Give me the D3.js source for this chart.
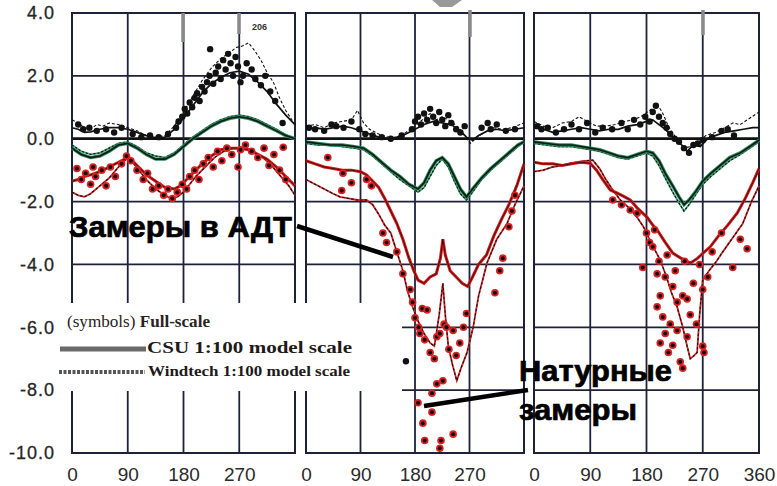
<!DOCTYPE html>
<html>
<head>
<meta charset="utf-8">
<script src="https://cdn.jsdelivr.net/npm/d3@7"></script>
<style>
  body { margin: 0; background: #fff; }
  svg { display: block; }
</style>
</head>
<body>
<svg id="chart" width="777" height="486"></svg>
<script>
// axis values
const yTicks = [4, 2, 0, -2, -4, -6, -8, -10];
const gridAngles = [90, 180, 270];
const xLabels = [[0, 90, 180, 270], [0, 90, 180, 270], [0, 90, 180, 270, 360]];

// panel 1 [angle, Cp]
const p1MaxCsu = [[0,0.35],[10,0.3],[20,0.2],[30,0.22],[45,0.3],[60,0.35],[75,0.35],[90,0.3],[105,0.2],[120,0.1],[135,0.03],[150,0.05],[165,0.3],[180,0.65],[195,1.05],[210,1.45],[225,1.75],[240,1.95],[255,2.1],[270,2.15],[285,2.05],[300,1.8],[315,1.5],[330,1.1],[345,0.75],[360,0.45]];
const p1MaxWind = [[0,0.6],[10,0.5],[20,0.35],[30,0.3],[40,0.45],[50,0.4],[60,0.5],[75,0.45],[90,0.35],[105,0.25],[120,0.1],[135,0.05],[150,0.1],[165,0.4],[180,0.85],[195,1.35],[210,1.85],[225,2.25],[240,2.55],[255,2.75],[265,2.9],[275,2.95],[285,3.05],[295,2.8],[305,2.5],[315,2.1],[325,1.8],[335,1.3],[345,0.9],[360,0.45]];
const p1MaxPts = [[10,0.45],[18,0.3],[28,0.35],[40,0.25],[55,0.3],[68,0.2],[80,0.35],[98,0.15],[112,0.05],[126,0.1],[140,0.05],[155,0.15],[168,0.35],[172,0.55],[178,0.7],[182,0.95],[186,0.8],[190,1.15],[194,1.0],[198,1.3],[202,1.45],[206,1.2],[210,1.65],[214,1.5],[218,1.8],[222,2.0],[223,2.85],[228,1.75],[232,2.1],[236,2.3],[240,1.9],[244,2.5],[248,2.2],[252,2.7],[256,2.4],[260,2.0],[264,2.6],[268,2.3],[272,1.8],[276,2.0],[282,2.4],[290,2.2],[296,1.9],[305,1.7],[312,2.0],[320,1.5],[328,1.2],[340,0.5]];
const p1MeanCsu = [[0,-0.3],[15,-0.5],[30,-0.6],[45,-0.55],[60,-0.4],[75,-0.2],[90,-0.15],[105,-0.3],[120,-0.5],[135,-0.65],[150,-0.65],[165,-0.5],[180,-0.25],[195,0.0],[210,0.2],[225,0.4],[240,0.55],[255,0.65],[270,0.7],[285,0.65],[300,0.55],[315,0.4],[330,0.25],[345,0.1],[360,0.0]];
const p1MeanWind = [[0,-0.2],[15,-0.4],[30,-0.5],[45,-0.45],[60,-0.3],[75,-0.15],[90,-0.1],[105,-0.25],[120,-0.45],[135,-0.55],[150,-0.6],[165,-0.45],[180,-0.2],[195,0.05],[210,0.25],[225,0.45],[240,0.6],[255,0.7],[270,0.75],[285,0.7],[300,0.6],[315,0.45],[330,0.3],[345,0.12],[360,0.0]];
const p1MinCsu = [[0,-1.35],[10,-1.3],[20,-1.2],[30,-1.15],[45,-1.05],[60,-0.9],[75,-0.75],[90,-0.6],[100,-0.75],[110,-0.95],[120,-1.15],[135,-1.35],[150,-1.55],[165,-1.6],[175,-1.5],[185,-1.3],[195,-1.1],[210,-0.8],[225,-0.55],[240,-0.35],[255,-0.3],[270,-0.3],[285,-0.35],[300,-0.5],[315,-0.65],[330,-0.9],[345,-1.2],[360,-1.5]];
const p1MinWind = [[0,-1.7],[10,-1.8],[20,-1.85],[30,-1.75],[45,-1.5],[60,-1.25],[75,-0.9],[90,-0.6],[100,-0.8],[110,-1.05],[120,-1.3],[135,-1.6],[150,-1.8],[160,-1.9],[170,-1.85],[180,-1.7],[190,-1.45],[200,-1.2],[215,-0.9],[230,-0.6],[245,-0.4],[260,-0.3],[275,-0.3],[290,-0.4],[305,-0.55],[320,-0.8],[335,-1.15],[350,-1.5],[360,-1.8]];
const p1MinPts = [[8,-0.95],[15,-1.3],[22,-1.1],[30,-1.45],[34,-0.9],[38,-1.2],[48,-1.0],[55,-1.5],[62,-0.9],[70,-1.2],[80,-0.8],[88,-0.55],[95,-0.7],[105,-1.0],[115,-1.3],[122,-1.1],[130,-1.6],[140,-1.5],[148,-1.8],[155,-1.6],[162,-1.9],[170,-1.7],[178,-1.45],[185,-1.6],[190,-1.2],[198,-1.0],[205,-1.3],[212,-0.8],[220,-0.6],[228,-0.9],[235,-0.4],[242,-0.7],[250,-0.3],[258,-0.5],[268,-0.9],[272,-0.35],[280,-0.2],[290,-0.4],[300,-0.6],[310,-0.3],[318,-0.85],[326,-0.5],[335,-1.0],[341,-0.27],[345,-1.3]];

// panel 2
const p2MaxCsu = [[0,0.3],[15,0.35],[30,0.3],[45,0.35],[60,0.4],[75,0.35],[90,0.25],[105,0.15],[120,0.05],[135,0.0],[150,0.05],[165,0.15],[180,0.3],[195,0.45],[210,0.55],[225,0.5],[240,0.45],[255,0.25],[265,0.05],[275,-0.05],[285,0.1],[300,0.25],[315,0.3],[330,0.25],[345,0.3],[360,0.35]];
const p2MaxWind = [[0,0.4],[15,0.45],[30,0.35],[45,0.5],[60,0.55],[75,0.6],[85,0.9],[95,0.5],[105,0.3],[120,0.15],[135,0.05],[150,0.0],[165,0.2],[180,0.4],[195,0.65],[205,0.8],[215,0.6],[225,0.7],[240,0.55],[255,0.3],[265,0.0],[272,-0.15],[282,0.05],[295,0.2],[310,0.35],[325,0.3],[340,0.35],[360,0.5]];
const p2MaxPts = [[5,0.35],[15,0.3],[30,0.25],[42,0.45],[50,0.4],[62,0.35],[75,0.55],[88,0.3],[98,0.15],[110,0.1],[125,0.05],[140,0.0],[158,0.1],[175,0.3],[180,0.55],[185,0.7],[190,0.45],[195,0.8],[200,0.6],[205,0.95],[210,0.7],[215,0.5],[220,0.85],[225,0.6],[230,0.4],[235,0.75],[240,0.5],[248,0.3],[255,0.2],[262,0.4],[290,0.35],[300,0.5],[305,0.3],[315,0.45],[330,0.25],[345,0.3],[165,-7.08]];
const p2MeanCsu = [[0,-0.1],[20,-0.15],[40,-0.2],[60,-0.2],[80,-0.25],[95,-0.3],[110,-0.5],[125,-0.75],[140,-1.0],[155,-1.2],[170,-1.45],[185,-1.6],[195,-1.4],[205,-1.0],[215,-0.7],[225,-0.6],[235,-0.8],[245,-1.2],[255,-1.6],[265,-1.85],[275,-1.6],[290,-1.25],[305,-0.95],[320,-0.7],[335,-0.45],[350,-0.2],[360,-0.1]];
const p2MeanWind = [[0,-0.15],[20,-0.2],[40,-0.2],[60,-0.25],[80,-0.3],[95,-0.35],[110,-0.55],[125,-0.8],[140,-1.05],[155,-1.3],[170,-1.5],[185,-1.7],[195,-1.55],[205,-1.2],[215,-0.85],[225,-0.65],[235,-0.9],[245,-1.35],[255,-1.75],[265,-1.95],[275,-1.7],[290,-1.3],[305,-1.0],[320,-0.75],[335,-0.5],[350,-0.25],[360,-0.1]];
const p2MinCsu = [[0,-0.7],[15,-0.8],[30,-0.9],[45,-0.95],[60,-1.0],[75,-1.0],[90,-1.05],[100,-1.15],[110,-1.35],[120,-1.55],[130,-1.9],[140,-2.3],[150,-2.7],[160,-3.2],[170,-3.8],[178,-4.2],[185,-4.5],[195,-4.6],[205,-4.4],[215,-4.3],[222,-3.8],[226,-3.2],[230,-3.7],[238,-4.2],[248,-4.4],[258,-4.6],[267,-4.7],[275,-4.4],[285,-4.0],[298,-3.7],[310,-3.1],[322,-2.6],[335,-2.1],[348,-1.5],[360,-0.8]];
const p2MinWind = [[0,-1.3],[15,-1.45],[30,-1.6],[45,-1.75],[56,-1.85],[70,-1.9],[85,-1.95],[100,-1.95],[110,-2.1],[120,-2.4],[130,-2.75],[140,-3.0],[150,-3.6],[160,-4.2],[167,-4.8],[175,-5.3],[185,-5.8],[195,-6.2],[205,-6.5],[212,-6.6],[220,-5.6],[226,-4.6],[230,-5.6],[235,-6.6],[242,-7.2],[249,-7.7],[256,-7.3],[266,-6.8],[276,-6.0],[285,-5.0],[299,-3.95],[315,-3.2],[332,-2.7],[345,-2.1],[360,-1.5]];
const p2MinPts = [[36,-0.6],[59,-1.65],[61,-1.1],[75,-1.4],[100,-1.3],[108,-1.5],[127,-3.0],[133,-3.3],[150,-3.6],[160,-4.3],[172,-4.8],[176,-5.2],[180,-5.7],[185,-8.4],[186,-6.0],[188,-6.2],[192,-5.4],[193,-9.05],[196,-6.4],[196,-9.6],[200,-5.45],[205,-6.8],[208,-8.1],[208,-8.7],[212,-7.0],[216,-6.3],[216,-7.8],[221,-6.2],[221,-9.85],[223,-9.6],[226,-7.7],[228,-5.9],[232,-6.0],[236,-6.7],[243,-6.1],[243,-9.4],[248,-6.9],[254,-6.5],[260,-6.0],[265,-5.56],[312,-4.9],[320,-4.2],[325,-3.8],[335,-2.8],[340,-2.3],[345,-1.8]];

// panel 3
const p3MaxCsu = [[0,0.35],[15,0.3],[30,0.2],[45,0.25],[60,0.3],[75,0.35],[90,0.3],[105,0.25],[120,0.3],[135,0.3],[150,0.4],[165,0.45],[180,0.55],[190,0.6],[200,0.45],[210,0.3],[220,0.1],[232,-0.1],[245,-0.4],[255,-0.2],[266,-0.25],[278,0.0],[290,0.1],[305,0.2],[320,0.25],[335,0.3],[350,0.35],[360,0.35]];
const p3MaxWind = [[0,0.55],[15,0.4],[30,0.35],[45,0.5],[60,0.55],[72,0.7],[85,0.55],[100,0.4],[115,0.4],[130,0.45],[145,0.55],[160,0.6],[175,0.75],[188,0.95],[197,1.1],[205,0.85],[215,0.4],[228,0.0],[240,-0.3],[250,-0.25],[262,-0.1],[275,0.1],[290,0.2],[305,0.35],[318,0.5],[330,0.45],[345,0.65],[360,0.85]];
const p3MaxPts = [[5,0.4],[12,0.3],[22,0.35],[35,0.2],[48,0.3],[60,0.45],[72,0.3],[85,0.5],[98,0.2],[110,0.35],[125,0.3],[140,0.5],[150,0.3],[160,0.6],[170,0.45],[178,0.7],[185,0.55],[190,0.85],[195,1.05],[200,0.7],[206,0.5],[212,0.35],[218,0.15],[225,0.0],[232,-0.1],[240,-0.3],[248,-0.45],[255,-0.2],[262,-0.15],[270,-0.05],[285,0.05],[300,0.25],[310,0.3],[320,0.1]];
const p3MeanCsu = [[0,-0.1],[20,-0.15],[40,-0.2],[60,-0.2],[75,-0.25],[90,-0.3],[105,-0.35],[120,-0.45],[135,-0.55],[150,-0.6],[165,-0.5],[180,-0.4],[190,-0.45],[200,-0.7],[210,-1.1],[222,-1.5],[232,-1.85],[240,-2.1],[248,-1.95],[258,-1.7],[270,-1.35],[283,-1.1],[298,-0.85],[313,-0.6],[330,-0.45],[345,-0.25],[360,-0.05]];
const p3MeanWind = [[0,-0.15],[20,-0.2],[40,-0.25],[60,-0.25],[75,-0.3],[90,-0.35],[105,-0.4],[120,-0.5],[135,-0.6],[150,-0.65],[165,-0.55],[180,-0.45],[190,-0.55],[200,-0.85],[210,-1.25],[222,-1.7],[232,-2.05],[240,-2.3],[248,-2.1],[258,-1.8],[270,-1.45],[283,-1.2],[298,-0.95],[313,-0.7],[330,-0.5],[345,-0.3],[360,-0.1]];
const p3MinCsu = [[0,-0.75],[15,-0.8],[30,-0.8],[45,-0.85],[60,-0.8],[75,-0.75],[90,-0.78],[100,-1.0],[110,-1.3],[122,-1.63],[135,-1.75],[145,-1.85],[154,-1.95],[165,-2.2],[181,-2.5],[190,-2.75],[197,-2.9],[210,-3.3],[222,-3.64],[235,-3.8],[250,-3.96],[262,-3.8],[270,-3.65],[282,-3.44],[295,-3.1],[310,-2.75],[325,-2.37],[338,-1.9],[350,-1.4],[360,-0.95]];
const p3MinWind = [[0,-1.05],[15,-1.0],[30,-0.9],[45,-0.85],[58,-0.78],[75,-0.72],[94,-0.68],[105,-0.95],[115,-1.3],[125,-1.6],[138,-1.95],[152,-2.2],[165,-2.5],[175,-2.8],[185,-3.2],[195,-3.6],[202,-3.86],[212,-4.4],[220,-4.9],[229,-5.35],[238,-6.0],[245,-6.6],[250,-7.0],[256,-6.9],[261,-6.8],[265,-5.6],[270,-4.5],[280,-4.2],[292,-3.9],[302,-3.6],[318,-3.15],[334,-2.7],[348,-2.0],[360,-1.5]];
const p3MinPts = [[126,-1.95],[140,-2.1],[154,-2.27],[165,-2.37],[174,-4.1],[180,-3.0],[185,-3.3],[190,-3.44],[193,-2.9],[197,-4.3],[197,-5.35],[200,-3.9],[202,-5.0],[202,-6.5],[206,-5.67],[210,-4.4],[210,-6.2],[213,-3.7],[215,-6.8],[218,-5.9],[222,-4.7],[222,-6.57],[226,-4.2],[229,-5.2],[229,-6.1],[234,-7.1],[238,-5.0],[238,-7.3],[241,-3.9],[245,-5.1],[245,-6.3],[250,-5.6],[255,-4.6],[260,-5.9],[265,-4.0],[270,-4.8],[270,-6.6],[272,-6.8],[278,-4.4],[285,-3.6],[300,-3.0],[318,-4.1],[330,-3.2],[341,-3.5]];

const panels = [
  { maxCsu: p1MaxCsu, maxWind: p1MaxWind, maxPts: p1MaxPts, meanCsu: p1MeanCsu, meanWind: p1MeanWind, minCsu: p1MinCsu, minWind: p1MinWind, minPts: p1MinPts },
  { maxCsu: p2MaxCsu, maxWind: p2MaxWind, maxPts: p2MaxPts, meanCsu: p2MeanCsu, meanWind: p2MeanWind, minCsu: p2MinCsu, minWind: p2MinWind, minPts: p2MinPts },
  { maxCsu: p3MaxCsu, maxWind: p3MaxWind, maxPts: p3MaxPts, meanCsu: p3MeanCsu, meanWind: p3MeanWind, minCsu: p3MinCsu, minWind: p3MinWind, minPts: p3MinPts }
];

const panelSpans = [[72, 295], [306, 524], [534, 759]];
const svg = d3.select("#chart");
const y = d3.scaleLinear().domain([-10, 4]).range([453, 13]);

svg.append("rect").attr("width", 777).attr("height", 486).attr("fill", "#fff");

panels.forEach((p, i) => {
    const x = d3.scaleLinear().domain([0, 360]).range(panelSpans[i]);
    const g = svg.append("g");
    const line = d3.line().x(d => x(d[0])).y(d => y(d[1]));

    // grid
    g.selectAll(".hg").data(yTicks.filter(v => v > -10 && v < 4)).join("line")
        .attr("x1", x(0)).attr("x2", x(360))
        .attr("y1", d => y(d)).attr("y2", d => y(d))
        .attr("stroke", d => d === 0 ? "#111" : "#1e2238")
        .attr("stroke-width", d => d === 0 ? 2.8 : 1.8);
    g.selectAll(".vg").data(gridAngles).join("line")
        .attr("x1", d => x(d)).attr("x2", d => x(d))
        .attr("y1", y(4)).attr("y2", y(-10))
        .attr("stroke", "#1e2238").attr("stroke-width", 1.8);
    g.append("rect")
        .attr("x", x(0)).attr("y", y(4))
        .attr("width", x(360) - x(0)).attr("height", y(-10) - y(4))
        .attr("fill", "none").attr("stroke", "#1e2238").attr("stroke-width", 2);

    // x labels
    const ax = g.append("g").attr("transform", `translate(0,${y(-10)})`)
        .call(d3.axisBottom(x).tickValues(xLabels[i]).tickSize(0).tickPadding(15).tickFormat(d3.format("d")));
    ax.select(".domain").remove();
    ax.selectAll("text").attr("font-family", "Liberation Sans, Arial, sans-serif")
        .attr("font-size", 19).attr("fill", "#2a2a2a");

    // max (black)
    g.append("path").attr("d", line(p.maxWind)).attr("fill", "none")
        .attr("stroke", "#111").attr("stroke-width", 1.1).attr("stroke-dasharray", "3,2");
    g.append("path").attr("d", line(p.maxCsu)).attr("fill", "none")
        .attr("stroke", "#111").attr("stroke-width", 1.7);
    g.selectAll(".maxpt").data(p.maxPts).join("circle")
        .attr("cx", d => x(d[0])).attr("cy", d => y(d[1])).attr("r", 3.2).attr("fill", "#111");

    // mean (green)
    g.append("path").attr("d", line(p.meanWind)).attr("fill", "none")
        .attr("stroke", "#3a9a6a").attr("stroke-width", 1.8);
    g.append("path").attr("d", line(p.meanWind)).attr("fill", "none")
        .attr("stroke", "#111").attr("stroke-width", 1.2).attr("stroke-dasharray", "2,2");
    g.append("path").attr("d", line(p.meanCsu)).attr("fill", "none")
        .attr("stroke", "#2f8a5c").attr("stroke-width", 3.4);
    g.append("path").attr("d", line(p.meanCsu)).attr("fill", "none")
        .attr("stroke", "#0d1a12").attr("stroke-width", 1.6);

    // min (red)
    g.append("path").attr("d", line(p.minWind)).attr("fill", "none")
        .attr("stroke", "#d42424").attr("stroke-width", 1.8);
    g.append("path").attr("d", line(p.minWind)).attr("fill", "none")
        .attr("stroke", "#111").attr("stroke-width", 1.1).attr("stroke-dasharray", "2.5,2");
    g.append("path").attr("d", line(p.minCsu)).attr("fill", "none")
        .attr("stroke", "#d41c1c").attr("stroke-width", 3);
    g.append("path").attr("d", line(p.minCsu)).attr("fill", "none")
        .attr("stroke", "#3a0808").attr("stroke-width", 0.9);
    const mp = g.selectAll(".minpt").data(p.minPts).join("g")
        .attr("transform", d => `translate(${x(d[0])},${y(d[1])})`);
    mp.append("circle").attr("r", 3.8).attr("fill", "#d82222");
    mp.append("circle").attr("r", 2).attr("fill", "#150505");
});

// y labels
const ay = svg.append("g").attr("transform", "translate(55,0)")
    .call(d3.axisLeft(y).tickValues(yTicks).tickSize(0).tickPadding(0).tickFormat(d => d.toFixed(1)));
ay.select(".domain").remove();
ay.selectAll("text").attr("font-family", "Liberation Sans, Arial, sans-serif")
    .attr("font-size", 18).attr("fill", "#262626").attr("letter-spacing", 1)
    .attr("stroke", "#262626").attr("stroke-width", 0.3);

// scan marks
[[183, 13, 42], [239, 13, 34], [470, 10, 37], [703, 10, 35]].forEach(m => {
    svg.append("line").attr("x1", m[0]).attr("x2", m[0]).attr("y1", m[1]).attr("y2", m[2])
        .attr("stroke", "#8a8a8a").attr("stroke-width", 3.5);
});
svg.append("path").attr("d", "M432,0 L462,0 L452,7 L440,7 Z").attr("fill", "#999");
svg.append("text").attr("x", 252).attr("y", 30).text("206")
    .attr("font-family", "Liberation Sans, Arial, sans-serif").attr("font-size", 9)
    .attr("font-weight", "bold").attr("fill", "#333");

// legend
const lg = svg.append("g");
lg.append("rect").attr("x", 57).attr("y", 303).attr("width", 345).attr("height", 88).attr("fill", "#fff");
const sym = lg.append("text").attr("x", 67).attr("y", 327)
    .attr("font-family", "Liberation Serif, Times New Roman, serif").attr("font-size", 16)
    .attr("fill", "#2a2222").attr("textLength", 143).attr("lengthAdjust", "spacingAndGlyphs");
sym.append("tspan").text("(symbols) ");
sym.append("tspan").attr("font-weight", "bold").text("Full-scale");
lg.append("line").attr("x1", 60).attr("x2", 146).attr("y1", 349).attr("y2", 349)
    .attr("stroke", "#6a6a6a").attr("stroke-width", 5);
lg.append("text").attr("x", 147).attr("y", 353).text("CSU 1:100 model scale")
    .attr("font-family", "Liberation Serif, Times New Roman, serif").attr("font-size", 17)
    .attr("font-weight", "bold").attr("fill", "#1e1a1a")
    .attr("textLength", 205).attr("lengthAdjust", "spacingAndGlyphs");
lg.append("line").attr("x1", 59).attr("x2", 145).attr("y1", 372).attr("y2", 372)
    .attr("stroke", "#555").attr("stroke-width", 4).attr("stroke-dasharray", "3,1.5");
lg.append("text").attr("x", 148).attr("y", 376).text("Windtech 1:100 model scale")
    .attr("font-family", "Liberation Serif, Times New Roman, serif").attr("font-size", 15)
    .attr("font-weight", "bold").attr("fill", "#1e1a1a")
    .attr("textLength", 202).attr("lengthAdjust", "spacingAndGlyphs");

// annotations
const notes = svg.append("g").attr("font-family", "Liberation Sans, Arial, sans-serif")
    .attr("font-weight", "bold").attr("fill", "#000")
    .attr("stroke", "#000").attr("stroke-width", 0.7);
notes.append("text").attr("x", 69).attr("y", 237).attr("font-size", 30)
    .attr("textLength", 223).attr("lengthAdjust", "spacingAndGlyphs").text("Замеры в АДТ");
notes.append("text").attr("x", 519).attr("y", 381).attr("font-size", 29)
    .attr("textLength", 153).attr("lengthAdjust", "spacingAndGlyphs").text("Натурные");
notes.append("text").attr("x", 519).attr("y", 420).attr("font-size", 29)
    .attr("textLength", 118).attr("lengthAdjust", "spacingAndGlyphs").text("замеры");
notes.append("line").attr("x1", 297).attr("y1", 226).attr("x2", 393).attr("y2", 257)
    .attr("stroke-width", 4.5);
notes.append("line").attr("x1", 424).attr("y1", 406).attr("x2", 528).attr("y2", 390)
    .attr("stroke-width", 4.5);
</script>
</body>
</html>
